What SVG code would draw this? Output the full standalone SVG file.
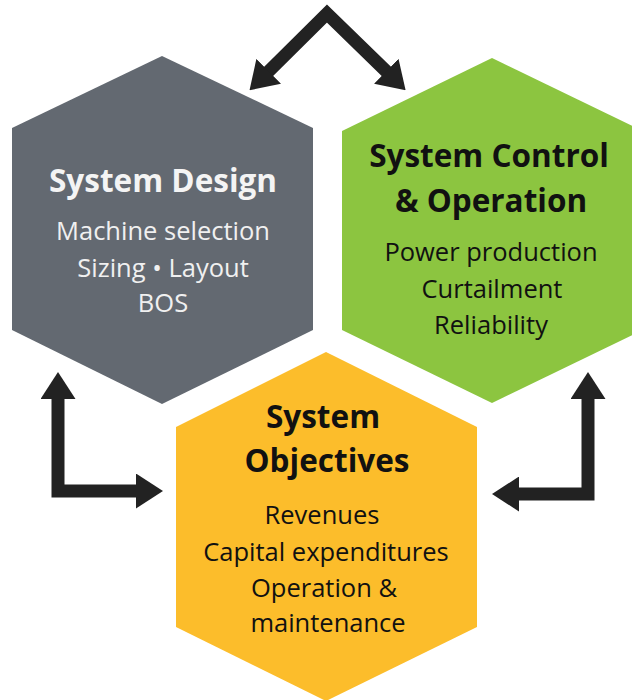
<svg xmlns="http://www.w3.org/2000/svg" width="632" height="700" viewBox="0 0 632 700">
<style>
.title{font-family:"Open Sans","Liberation Sans",sans-serif;font-weight:bold;text-anchor:middle}
.body{font-family:"Open Sans","Liberation Sans",sans-serif;text-anchor:middle}
.conn{fill:none;stroke:#222;stroke-width:13;stroke-linejoin:miter}
</style>
<defs>
<marker id="ah" markerUnits="userSpaceOnUse" markerWidth="27" markerHeight="35" viewBox="0 0 27 35" refX="1" refY="17.5" orient="auto-start-reverse">
<path d="M0,0 L27,17.5 L0,35 z" fill="#222"/>
</marker>
</defs>
<rect width="632" height="700" fill="#fff"/>
<g id="design">
<polygon points="162,56 313,128 313,330 162,404 12,330 12,128" fill="#636971"/>
<text class="title" x="163" y="192" font-size="31.5" fill="#f4f4f4">System Design</text>
<text class="body" x="163" y="240" font-size="25.5" fill="#f0f0f0">Machine selection</text>
<text class="body" x="163" y="277" font-size="25.5" fill="#f0f0f0">Sizing • Layout</text>
<text class="body" x="163" y="312" font-size="25.5" fill="#f0f0f0">BOS</text>
</g>
<g id="control">
<polygon points="492,58 643,131 643,330 492,403 342,330 342,131" fill="#8cc540"/>
<text class="title" x="489" y="167" font-size="31.5" fill="#111">System Control</text>
<text class="title" x="491" y="212" font-size="31.5" fill="#111">&amp; Operation</text>
<text class="body" x="491" y="261" font-size="25.5" fill="#111">Power production</text>
<text class="body" x="492" y="298" font-size="25.5" fill="#111">Curtailment</text>
<text class="body" x="491" y="334" font-size="25.5" fill="#111">Reliability</text>
</g>
<g id="objectives">
<polygon points="326,352 477,427 477,627 326,701 176,627 176,427" fill="#fcbd2b"/>
<text class="title" x="323" y="428" font-size="31.5" fill="#111">System</text>
<text class="title" x="327" y="472" font-size="31.5" fill="#111">Objectives</text>
<text class="body" x="322" y="524" font-size="25.5" fill="#111">Revenues</text>
<text class="body" x="326" y="561" font-size="25.5" fill="#111">Capital expenditures</text>
<text class="body" x="324" y="597" font-size="25.5" fill="#111">Operation &amp;</text>
<text class="body" x="328" y="632" font-size="25.5" fill="#111">maintenance</text>
</g>
<g id="connectors">
<path class="conn" d="M268,72 L327,13.5 L387,72" marker-start="url(#ah)" marker-end="url(#ah)"/>
<path class="conn" d="M58,398 L58,491 L137,491" marker-start="url(#ah)" marker-end="url(#ah)"/>
<path class="conn" d="M588,398 L588,494 L518,494" marker-start="url(#ah)" marker-end="url(#ah)"/>
</g>
</svg>
